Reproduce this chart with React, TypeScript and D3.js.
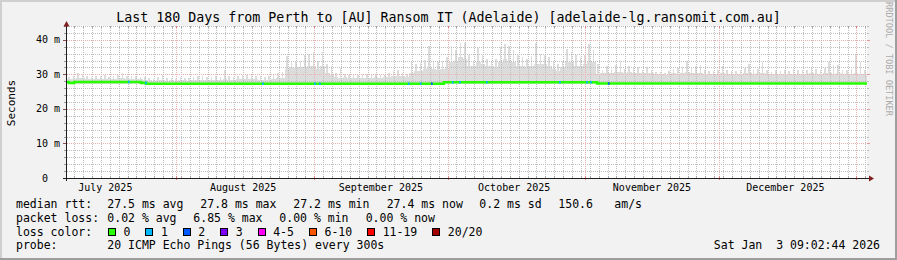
import React from "react";
import * as d3 from "d3";

const W = 897;
const H = 260;

const title =
  "Last 180 Days from Perth to [AU] Ransom IT (Adelaide) [adelaide-lg.ransomit.com.au]";
const startTime = "2025-07-07T09:02:44";
const endTime = "2026-01-03T09:02:44";
const yMax = 44;
const yTicks = [0, 10, 20, 30, 40];
const yTickLabels = [" 0  ", "10 m", "20 m", "30 m", "40 m"];
const monthLabels = [
  "July 2025",
  "August 2025",
  "September 2025",
  "October 2025",
  "November 2025",
  "December 2025",
];
const monthLabelDates = [
  "2025-07-16T00:00",
  "2025-08-16T00:00",
  "2025-09-16T00:00",
  "2025-10-16T00:00",
  "2025-11-16T00:00",
  "2025-12-16T00:00",
];
const monthStarts = [
  "2025-08-01T00:00",
  "2025-09-01T00:00",
  "2025-10-01T00:00",
  "2025-11-01T00:00",
  "2025-12-01T00:00",
  "2026-01-01T00:00",
];
const minorGridRef = "2025-07-31T00:00";

// smoke per day (ms): typical upper level and peak
const smokeBase = [
  28.6, 28.8, 29.0, 29.0, 28.7, 28.6, 28.8, 28.7, 28.8, 28.6,
  28.7, 28.8, 29.0, 28.7, 28.6, 28.7, 28.6, 28.5, 28.3, 28.2,
  28.3, 28.4, 28.2, 28.3, 28.2, 28.4, 28.3, 28.2, 28.4, 28.3,
  28.5, 28.4, 28.3, 28.5, 28.4, 28.6, 28.5, 28.4, 28.6, 28.7,
  28.7, 28.8, 28.6, 28.5, 28.4, 28.5, 28.7, 28.9, 29.0, 31.5,
  32.0, 31.8, 32.0, 32.2, 32.5, 32.5, 31.5, 32.5, 30.5, 29.8,
  29.2, 29.0, 29.2, 29.0, 28.9, 29.0, 29.0, 28.9, 29.0, 29.1,
  29.0, 29.1, 29.2, 29.5, 29.6, 29.4, 29.3, 30.5, 31.0, 31.0,
  31.5, 32.0, 31.5, 31.2, 31.5, 31.8, 33.5, 34.0, 35.0, 34.5,
  32.5, 32.5, 33.5, 33.0, 32.5, 32.5, 32.2, 33.5, 34.5, 34.0,
  33.5, 32.5, 32.5, 32.0, 32.5, 33.0, 33.0, 33.0, 32.5, 31.5,
  31.0, 32.0, 33.5, 33.5, 32.5, 32.5, 33.0, 34.0, 33.5, 30.0,
  30.3, 30.4, 30.3, 30.6, 30.8, 30.3, 30.6, 30.3, 30.4, 30.3,
  30.5, 30.3, 30.0, 30.0, 29.8, 30.1, 30.3, 30.2, 30.4, 30.6,
  30.5, 30.4, 30.4, 30.2, 30.0, 30.1, 30.0, 30.3, 30.2, 30.1,
  30.0, 30.2, 30.3, 30.4, 30.2, 30.3, 30.4, 30.1, 30.0, 30.1,
  30.0, 30.1, 30.0, 30.2, 30.1, 30.2, 30.1, 30.3, 30.2, 30.2,
  30.3, 30.4, 30.2, 30.3, 30.1, 30.1, 30.2, 30.4, 30.2, 30.1,
];
const smokePeak = [
  29.2, 29.6, 30.3, 30.2, 29.4, 29.3, 29.6, 29.5, 29.8, 29.3,
  29.6, 29.7, 30.3, 29.5, 29.4, 29.6, 29.3, 29.2, 28.9, 28.8,
  29.1, 29.8, 28.9, 29.0, 28.8, 29.2, 29.0, 28.9, 29.3, 29.4,
  29.4, 29.2, 29.1, 29.5, 29.3, 31.2, 29.5, 29.2, 29.6, 29.8,
  29.9, 29.8, 29.6, 29.4, 29.3, 29.5, 30.0, 30.5, 30.8, 35.2,
  34.0, 33.5, 34.0, 35.5, 36.0, 36.6, 34.0, 36.5, 33.0, 32.5,
  30.3, 31.9, 30.2, 29.8, 30.1, 29.8, 30.0, 30.2, 30.0, 30.0,
  29.8, 29.9, 30.3, 31.0, 31.3, 30.5, 30.2, 33.8, 33.0, 33.2,
  34.2, 38.3, 34.0, 33.5, 33.8, 35.0, 38.2, 37.0, 39.0, 39.2,
  35.5, 34.0, 37.5, 35.7, 34.5, 34.0, 34.5, 37.8, 38.7, 38.3,
  37.0, 35.5, 35.0, 34.5, 35.4, 39.0, 36.0, 35.5, 35.0, 33.5,
  33.0, 34.0, 37.3, 36.5, 35.5, 35.0, 35.5, 38.7, 37.0, 33.0,
  31.2, 32.5, 31.5, 32.7, 34.0, 31.5, 32.5, 31.8, 32.0, 31.2,
  32.2, 31.4, 30.6, 30.8, 30.5, 31.0, 31.5, 31.8, 32.0, 34.0,
  32.2, 32.5, 32.7, 31.4, 31.0, 31.0, 31.2, 32.3, 31.4, 31.0,
  30.9, 31.3, 31.8, 33.0, 31.2, 31.5, 33.7, 31.2, 30.8, 31.2,
  30.9, 31.2, 31.0, 31.5, 31.2, 31.3, 31.2, 31.8, 31.5, 31.3,
  31.8, 33.5, 32.7, 32.7, 31.2, 31.3, 31.5, 36.0, 33.5, 31.3,
];
const smokeFloor = 27.1;

// median rtt step changes
const medianSteps: [string, number][] = [
  ["2025-07-07T09:02:44", 27.8],
  ["2025-07-07T20:00", 27.5],
  ["2025-07-08T23:00", 27.8],
  ["2025-07-24T00:30", 27.55],
  ["2025-07-25T04:00", 27.3],
  ["2025-09-30T04:00", 27.7],
  ["2025-11-03T16:00", 27.35],
  ["2026-01-03T09:02:44", 27.35],
];

// [time, lost pings of 20]
const lossEvents: [string, number][] = [
  ["2025-07-21T02:00", 1],
  ["2025-07-24T23:00", 1],
  ["2025-08-20T06:30", 1],
  ["2025-08-31T23:30", 1],
  ["2025-09-02T02:00", 1],
  ["2025-09-22T02:00", 1],
  ["2025-09-24T18:30", 1],
  ["2025-09-27T06:30", 2],
  ["2025-10-01T23:30", 1],
  ["2025-10-03T14:00", 1],
  ["2025-10-09T16:00", 1],
  ["2025-10-26T02:00", 1],
  ["2025-11-01T04:00", 1],
  ["2025-11-02T02:00", 1],
  ["2025-11-06T02:00", 2],
];

const lossLabels = ["0", "1", "2", "3", "4-5", "6-10", "11-19", "20/20"];
const lossColors = [
  "#26ff00",
  "#00b8ff",
  "#0059ff",
  "#7e00ff",
  "#ff00ff",
  "#ff5500",
  "#ff0000",
  "#a10000",
];

const statsRtt = [
  "median rtt:",
  "27.5 ms avg",
  "27.8 ms max",
  "27.2 ms min",
  "27.4 ms now",
  "0.2 ms sd",
  "150.6",
  "am/s",
];
const statsLoss = [
  "packet loss:",
  "0.02 % avg",
  "6.85 % max",
  "0.00 % min",
  "0.00 % now",
];
const probeText = ["probe:", "20 ICMP Echo Pings (56 Bytes) every 300s"];
const lossColorTitle = "loss color:";
const dateText = "Sat Jan  3 09:02:44 2026";
const yAxisTitle = "Seconds";
const watermark = "RRDTOOL / TOBI OETIKER";

// ---------- layout ----------
const L = 67;
const R = 867;
const T = 26;
const B = 178;
const MONO = "'DejaVu Sans Mono', monospace";
const LEG_FS = 11.5;
const CW = LEG_FS * 0.6021;
const rowY = [208, 221.5, 235.5, 249];
const rttX = [16, 107.3, 200.3, 293.3, 386.7, 479.3, 558.3, 614.3];
const lossX = [16, 107.3, 193.3, 279.3, 365.7];

const MINOR = "#bfbfbf";
const MAJOR = "#eeb0b0";

export default function App() {
  const x = d3
    .scaleTime()
    .domain([new Date(startTime), new Date(endTime)])
    .range([L, R]);
  const y = d3.scaleLinear().domain([0, yMax]).range([B, T]);

  const t0 = new Date(startTime);
  const t1 = new Date(endTime);
  const ref = new Date(minorGridRef).getTime();
  const majorTimes = monthStarts.map((s) => new Date(s));
  const majorSet = new Set(majorTimes.map((d) => d.getTime()));
  const minorTimes = d3
    .timeDay.range(d3.timeDay.floor(t0), t1)
    .filter((d) => d >= t0)
    .filter((d) => Math.round((d.getTime() - ref) / 864e5) % 2 === 0)
    .filter((d) => !majorSet.has(d.getTime()));

  const yMinor = d3.range(2, yMax + 0.001, 2).filter((v) => v % 10 !== 0);
  const yMajor = yTicks.filter((v) => v > 0);

  const dayW = x(d3.timeDay.offset(t0, 1)) - x(t0);
  const smoke = smokeBase.map((b, i) => {
    const d0 = d3.timeHour.offset(t0, i * 24);
    return { x0: x(d0), b, p: smokePeak[i] };
  });

  const medPts = medianSteps.map(
    ([t, v]) => [x(new Date(t)), y(v)] as [number, number]
  );
  const medPath = d3.line().curve(d3.curveStepAfter)(medPts) || "";
  const medianAt = (t: Date) => {
    let v = medianSteps[0][1];
    for (const [s, val] of medianSteps) if (new Date(s) <= t) v = val;
    return v;
  };

  const boxes: { bx: number; tx: number; label: string; color: string }[] = [];
  let bx = 108.5;
  lossLabels.forEach((lab, i) => {
    const tx = bx + 15;
    boxes.push({ bx, tx, label: lab, color: lossColors[i] });
    bx = tx + lab.length * CW + 15.5;
  });

  const lossColorFor = (n: number) => {
    if (n <= 0) return lossColors[0];
    if (n === 1) return lossColors[1];
    if (n === 2) return lossColors[2];
    if (n === 3) return lossColors[3];
    if (n <= 5) return lossColors[4];
    if (n <= 10) return lossColors[5];
    if (n <= 19) return lossColors[6];
    return lossColors[7];
  };

  const hy = (v: number) => Math.round(y(v)) + 0.5;

  return (
    <svg
      width={W}
      height={H}
      viewBox={`0 0 ${W} ${H}`}
      style={{ position: "fixed", left: 0, top: 0, display: "block" }}
      fontFamily={MONO}
    >
      <rect x={0} y={0} width={W} height={H} fill="#f2f2f2" />
      <rect x={0} y={0} width={W} height={2} fill="#cfcfcf" />
      <rect x={0} y={0} width={2} height={H} fill="#cfcfcf" />
      <rect x={0} y={H - 2} width={W} height={2} fill="#9e9e9e" />
      <rect x={W - 2} y={0} width={2} height={H} fill="#9e9e9e" />

      <rect x={L} y={T} width={R - L} height={B - T} fill="#ffffff" />

      {/* smoke */}
      <g fill="#dcdcdc" shapeRendering="crispEdges">
        {smoke.map((s, i) => (
          <rect
            key={"b" + i}
            x={s.x0}
            y={y(s.b)}
            width={dayW + 0.3}
            height={y(smokeFloor) - y(s.b)}
          />
        ))}
        {smoke.map((s, i) => (
          <rect
            key={"p" + i}
            x={s.x0 + dayW / 2 - 0.8}
            y={y(s.p)}
            width={1.6}
            height={y(s.b) - y(s.p)}
          />
        ))}
      </g>

      {/* grid */}
      <g shapeRendering="crispEdges" strokeWidth={1}>
        {yMinor.map((v) => (
          <g key={"hy" + v}>
            <line x1={L} x2={R} y1={hy(v)} y2={hy(v)} stroke={MINOR} strokeDasharray="1,1" />
            <line x1={L - 3} x2={L} y1={hy(v)} y2={hy(v)} stroke="#9a9a9a" />
            <line x1={R} x2={R + 2} y1={hy(v)} y2={hy(v)} stroke="#bdbdbd" />
          </g>
        ))}
        {minorTimes.map((d) => {
          const xx = Math.round(x(d)) + 0.5;
          return (
            <g key={"vx" + d.getTime()}>
              <line x1={xx} x2={xx} y1={T} y2={B} stroke={MINOR} strokeDasharray="1,1" />
              <line x1={xx} x2={xx} y1={B - 2} y2={B} stroke="#a8a8a8" />
              <line x1={xx} x2={xx} y1={T} y2={T + 2} stroke="#a8a8a8" />
            </g>
          );
        })}
        {yMajor.map((v) => (
          <g key={"HY" + v}>
            <line x1={L} x2={R} y1={hy(v)} y2={hy(v)} stroke={MAJOR} strokeDasharray="1,1" />
            <line x1={L - 4} x2={L} y1={hy(v)} y2={hy(v)} stroke="#8a4a4a" />
            <line x1={R} x2={R + 3} y1={hy(v)} y2={hy(v)} stroke="#e49a9a" />
          </g>
        ))}
        {majorTimes.map((d) => {
          const xx = Math.round(x(d)) + 0.5;
          return (
            <g key={"VX" + d.getTime()}>
              <line x1={xx} x2={xx} y1={T} y2={B} stroke={MAJOR} strokeDasharray="1,1" />
              <line x1={xx} x2={xx} y1={B - 2} y2={B + 2} stroke="#e48080" />
              <line x1={xx} x2={xx} y1={T} y2={T + 2} stroke="#e48080" />
            </g>
          );
        })}
      </g>

      {/* median line */}
      <path d={medPath} fill="none" stroke={lossColors[0]} strokeWidth={2.6} />
      {lossEvents.map(([t, n], i) => {
        const d0 = new Date(t);
        const d1 = d3.timeHour.offset(d0, 9);
        const v = medianAt(d0);
        return (
          <line
            key={"le" + i}
            x1={x(d0)}
            x2={x(d1)}
            y1={y(v)}
            y2={y(v)}
            stroke={lossColorFor(n)}
            strokeWidth={2.6}
          />
        );
      })}

      {/* axes */}
      <g shapeRendering="crispEdges">
        <line x1={L - 4} x2={R + 3} y1={B + 0.5} y2={B + 0.5} stroke="#1f1f1f" />
        <line x1={L - 0.5} x2={L - 0.5} y1={B + 3} y2={T} stroke="#1f1f1f" />
      </g>
      <polygon
        points={`${R + 2},${B - 2.5} ${R + 2},${B + 3.5} ${R + 7},${B + 0.5}`}
        fill="#801f1f"
      />
      <polygon
        points={`${L - 3.5},${T + 0.5} ${L + 2.5},${T + 0.5} ${L - 0.5},${T - 5}`}
        fill="#801f1f"
      />

      {yTicks.map((v, i) => (
        <text
          key={"yl" + v}
          x={36}
          y={y(v) + 3.5}
          fontSize={10}
          fill="#000"
          xmlSpace="preserve"
          style={{ whiteSpace: "pre" }}
        >
          {yTickLabels[i]}
        </text>
      ))}

      {monthLabels.map((m, i) => (
        <text
          key={m}
          x={x(new Date(monthLabelDates[i]))}
          y={190.5}
          fontSize={10}
          textAnchor="middle"
          fill="#000"
        >
          {m}
        </text>
      ))}

      <text x={448.5} y={22} fontSize={13.3} textAnchor="middle" fill="#000">
        {title}
      </text>

      <text
        transform={`translate(14.5,103) rotate(-90)`}
        fontSize={11}
        textAnchor="middle"
        fill="#000"
      >
        {yAxisTitle}
      </text>

      <text
        transform={`translate(885.5,59) rotate(90)`}
        fontSize={8.6}
        textAnchor="middle"
        fill="#acacac"
      >
        {watermark}
      </text>

      <g fontSize={LEG_FS} fill="#000">
        {statsRtt.map((s, i) => (
          <text key={"r" + i} x={rttX[i]} y={rowY[0]} xmlSpace="preserve" style={{ whiteSpace: "pre" }}>
            {s}
          </text>
        ))}
        {statsLoss.map((s, i) => (
          <text key={"l" + i} x={lossX[i]} y={rowY[1]} xmlSpace="preserve" style={{ whiteSpace: "pre" }}>
            {s}
          </text>
        ))}
        <text x={16} y={rowY[2]}>
          {lossColorTitle}
        </text>
        {boxes.map((b) => (
          <g key={"bx" + b.label}>
            <rect
              x={b.bx}
              y={228.5}
              width={7}
              height={7}
              fill={b.color}
              stroke="#000"
              strokeWidth={1}
              shapeRendering="crispEdges"
            />
            <text x={b.tx} y={rowY[2]}>
              {b.label}
            </text>
          </g>
        ))}
        <text x={16} y={rowY[3]}>
          {probeText[0]}
        </text>
        <text x={107.3} y={rowY[3]}>
          {probeText[1]}
        </text>
        <text
          x={880}
          y={rowY[3]}
          textAnchor="end"
          xmlSpace="preserve"
          style={{ whiteSpace: "pre" }}
        >
          {dateText}
        </text>
      </g>
    </svg>
  );
}
